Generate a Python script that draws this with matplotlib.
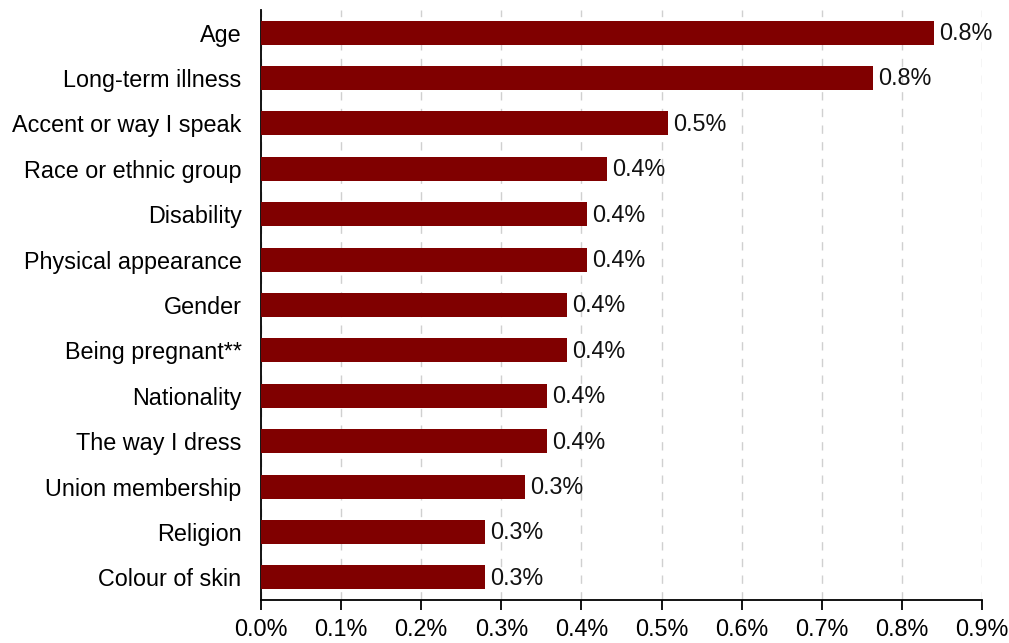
import matplotlib.pyplot as plt
from matplotlib.ticker import FuncFormatter

categories = ['Age', 'Long-term illness', 'Accent or way I speak', 'Race or ethnic group',
              'Disability', 'Physical appearance', 'Gender', 'Being pregnant**',
              'Nationality', 'The way I dress', 'Union membership', 'Religion', 'Colour of skin']
values = [0.840, 0.764, 0.508, 0.432, 0.407, 0.407, 0.382, 0.382, 0.357, 0.357, 0.330, 0.280, 0.280]
xticks = [0.0, 0.1, 0.2, 0.3, 0.4, 0.5, 0.6, 0.7, 0.8, 0.9]

plt.rcParams['font.family'] = ['Liberation Sans', 'DejaVu Sans']
FS = 16.8

fig = plt.figure(figsize=(10.09, 6.43), dpi=100)
ax = fig.add_axes([261 / 1009, 1 - 600 / 643, (982 - 261) / 1009, 590 / 643])

y = list(range(len(categories)))
ax.barh(y, values, height=0.53, color='#800000', zorder=3)
for yi, v in zip(y, values):
    ax.text(v + 0.006, yi + 0.02, f'{v:.1f}%', va='center', ha='left', fontsize=FS, color='#111111')

ax.set_ylim(len(categories) - 0.5, -0.5)
ax.set_xlim(0, 0.9)
ax.set_yticks(y)
ax.set_yticklabels(categories, fontsize=FS)
ax.set_xticks(xticks)
ax.xaxis.set_major_formatter(FuncFormatter(lambda x, p: f'{x:.1f}%'))
ax.tick_params(axis='x', labelsize=FS, length=7, width=1.3, direction='out', pad=6)
ax.tick_params(axis='y', length=0, pad=14)
ax.grid(axis='x', color='#d0d0d0', linestyle=(0, (6, 6)), linewidth=1, zorder=0)
for s in ['top', 'right']:
    ax.spines[s].set_visible(False)
ax.spines['left'].set_linewidth(1.3)
ax.spines['bottom'].set_linewidth(1.3)

fig.savefig('out.png', dpi=100)
